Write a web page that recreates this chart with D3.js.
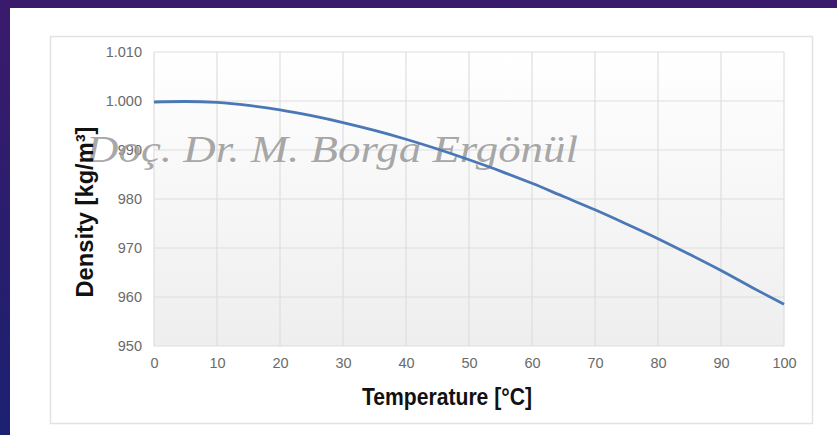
<!DOCTYPE html>
<html>
<head>
<meta charset="utf-8">
<script src="https://cdn.jsdelivr.net/npm/d3@7"></script>
<style>
  html, body { margin: 0; padding: 0; background: #2a1858; }
  svg { display: block; }
</style>
</head>
<body>
<div id="chart"></div>
<script>
// Water density vs temperature
var temps = [0, 5, 10, 15, 20, 25, 30, 35, 40, 45, 50, 55, 60, 65, 70, 75, 80, 85, 90, 95, 100];
var density = [999.8, 999.9, 999.7, 999.1, 998.2, 997.0, 995.6, 994.0, 992.2, 990.2, 988.0,
  985.7, 983.2, 980.5, 977.8, 974.9, 971.9, 968.7, 965.4, 961.9, 958.5];
var xTicks = [0, 10, 20, 30, 40, 50, 60, 70, 80, 90, 100];
var yTicks = [950, 960, 970, 980, 990, 1000, 1010];
var xTitle = 'Temperature [°C]';
var yTitle = 'Density [kg/m³]';
var watermark = 'Doç. Dr. M. Borga Ergönül';

var width = 837;
var height = 435;
var plot = { left: 154, right: 784, top: 52, bottom: 346 };

var svg = d3.select('#chart')
  .append('svg')
  .attr('width', width)
  .attr('height', height);

var defs = svg.append('defs');
// purple slide background
var bg = defs.append('linearGradient')
  .attr('id', 'bg')
  .attr('x1', 0).attr('y1', 0).attr('x2', 0).attr('y2', 1);
bg.append('stop').attr('offset', '0%').attr('stop-color', '#3b1a6c');
bg.append('stop').attr('offset', '100%').attr('stop-color', '#1b2170');
// plot area fade
var pg = defs.append('linearGradient')
  .attr('id', 'plotbg')
  .attr('x1', 0).attr('y1', 0).attr('x2', 0).attr('y2', 1);
pg.append('stop').attr('offset', '0%').attr('stop-color', '#ffffff');
pg.append('stop').attr('offset', '100%').attr('stop-color', '#eeeeee');

svg.append('rect')
  .attr('width', width).attr('height', height)
  .attr('fill', 'url(#bg)');

// white card
svg.append('rect')
  .attr('x', 10).attr('y', 8)
  .attr('width', width - 10).attr('height', height - 8)
  .attr('fill', '#ffffff');

// chart frame
svg.append('rect')
  .attr('x', 50.5).attr('y', 36.5)
  .attr('width', 762).attr('height', 387)
  .attr('fill', '#ffffff')
  .attr('stroke', '#e2e2e2')
  .attr('stroke-width', 1.5);

var x = d3.scaleLinear()
  .domain([0, 100])
  .range([plot.left, plot.right]);
var y = d3.scaleLinear()
  .domain([950, 1010])
  .range([plot.bottom, plot.top]);

var locale = d3.formatLocale({ decimal: ',', thousands: '.', grouping: [3], currency: ['', ''] });
var fmt = locale.format(',d');

svg.append('rect')
  .attr('x', plot.left).attr('y', plot.top)
  .attr('width', plot.right - plot.left)
  .attr('height', plot.bottom - plot.top)
  .attr('fill', 'url(#plotbg)');

// grid
var grid = svg.append('g').attr('stroke', '#dedede').attr('stroke-width', 1.2);
grid.selectAll('line.v')
  .data(xTicks)
  .enter()
  .append('line')
  .attr('class', 'v')
  .attr('x1', function(d) { return x(d); })
  .attr('x2', function(d) { return x(d); })
  .attr('y1', plot.top)
  .attr('y2', plot.bottom);
grid.selectAll('line.h')
  .data(yTicks)
  .enter()
  .append('line')
  .attr('class', 'h')
  .attr('x1', plot.left)
  .attr('x2', plot.right)
  .attr('y1', function(d) { return y(d); })
  .attr('y2', function(d) { return y(d); });

// axes (labels only)
var xAxis = svg.append('g')
  .attr('transform', 'translate(0,' + (plot.bottom + 4) + ')')
  .call(d3.axisBottom(x).tickValues(xTicks).tickSize(0).tickPadding(8));
var yAxis = svg.append('g')
  .attr('transform', 'translate(' + (plot.left - 12) + ',0)')
  .call(d3.axisLeft(y).tickValues(yTicks).tickFormat(fmt).tickSize(0).tickPadding(0));
[xAxis, yAxis].forEach(function(a) {
  a.select('.domain').remove();
  a.selectAll('text')
    .attr('fill', '#6a6a6a')
    .style('font-family', 'Liberation Sans, Arial, sans-serif')
    .style('font-size', '14.5px');
});

// watermark
svg.append('text')
  .attr('x', 86)
  .attr('y', 162)
  .attr('textLength', 492)
  .attr('lengthAdjust', 'spacingAndGlyphs')
  .attr('fill', '#9c9c9c')
  .attr('fill-opacity', 0.9)
  .style('font-family', 'Liberation Serif, serif')
  .style('font-style', 'italic')
  .style('font-size', '37px')
  .text(watermark);

// curve
var line = d3.line()
  .x(function(d) { return x(d[0]); })
  .y(function(d) { return y(d[1]); })
  .curve(d3.curveMonotoneX);
svg.append('path')
  .datum(d3.zip(temps, density))
  .attr('fill', 'none')
  .attr('stroke', '#4a78b6')
  .attr('stroke-width', 2.8)
  .attr('d', line);

// titles
svg.append('text')
  .attr('x', 447)
  .attr('y', 405)
  .attr('text-anchor', 'middle')
  .attr('textLength', 170)
  .attr('lengthAdjust', 'spacingAndGlyphs')
  .attr('fill', '#111')
  .style('font-family', 'Liberation Sans, Arial, sans-serif')
  .style('font-size', '23px')
  .style('font-weight', 'bold')
  .text(xTitle);

svg.append('text')
  .attr('transform', 'translate(93,212) rotate(-90)')
  .attr('text-anchor', 'middle')
  .attr('textLength', 171)
  .attr('lengthAdjust', 'spacingAndGlyphs')
  .attr('fill', '#111')
  .style('font-family', 'Liberation Sans, Arial, sans-serif')
  .style('font-size', '24px')
  .style('font-weight', 'bold')
  .text(yTitle);
</script>
</body>
</html>
